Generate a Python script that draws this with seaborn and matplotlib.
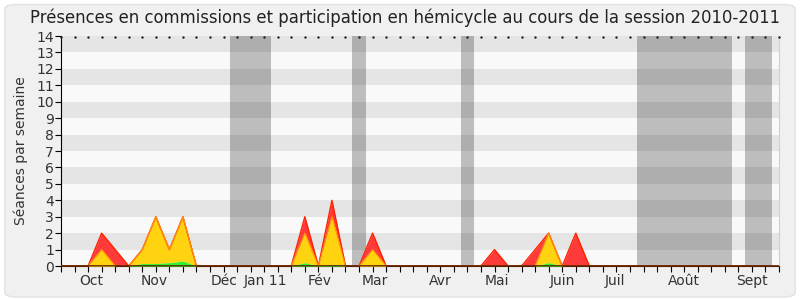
import numpy as np
import pandas as pd
import seaborn as sns
import matplotlib
matplotlib.use("Agg")
import matplotlib.pyplot as plt
from matplotlib.patches import FancyBboxPatch

# ---- data (weekly, session 2010-2011) ----
weeks = list(range(53))
# cumulative top levels of each stacked layer
total_top = [0, 0, 0, 2, 1, 0, 1, 3, 1, 3, 0, 0, 0, 0, 0, 0, 0, 0, 3, 0, 4, 0, 0, 2, 0, 0,
             0, 0, 0, 0, 0, 0, 1, 0, 0, 1, 2, 0, 2, 0, 0, 0, 0, 0, 0, 0, 0, 0, 0, 0, 0, 0, 0]
yellow_top = [0, 0, 0, 1, 0, 0, 1, 3, 1, 3, 0, 0, 0, 0, 0, 0, 0, 0, 2, 0, 3, 0, 0, 1, 0, 0,
              0, 0, 0, 0, 0, 0, 0, 0, 0, 0, 2, 0, 0, 0, 0, 0, 0, 0, 0, 0, 0, 0, 0, 0, 0, 0, 0]
green_top = [0, 0, 0, 0, 0, 0, 0.15, 0.15, 0.2, 0.3, 0, 0, 0, 0, 0, 0, 0, 0, 0.2, 0, 0.1, 0, 0, 0, 0, 0,
             0, 0, 0, 0, 0, 0, 0, 0, 0, 0, 0.2, 0, 0, 0, 0, 0, 0, 0, 0, 0, 0, 0, 0, 0, 0, 0, 0]
vacances = [(12.5, 15.5), (21.5, 22.5), (29.5, 30.5), (42.5, 49.5), (50.5, 52.5)]
month_labels = ["Oct", "Nov", "Déc", "Jan 11", "Fév", "Mar", "Avr", "Mai", "Juin", "Juil", "Août", "Sept"]
month_pos = [2.2, 6.9, 12.0, 15.1, 19.1, 23.2, 28.0, 32.2, 37.0, 40.9, 46.0, 51.0]

df = pd.DataFrame({"week": weeks, "total": total_top, "yellow": yellow_top, "green": green_top})

sns.set_theme(style="white")
plt.rcParams['font.family'] = ['DejaVu Sans']

fig = plt.figure(figsize=(8, 3), dpi=100)
fig.patch.set_facecolor("white")
fig.patches.append(FancyBboxPatch((0.006, 0.01), 0.988, 0.975, boxstyle="round,pad=0,rounding_size=0.015",
                                  transform=fig.transFigure, facecolor="#f0f0f0", edgecolor="#e2e2e2",
                                  linewidth=1, zorder=-10))
ax = fig.add_axes([0.07625, 0.1133, 0.8975, 0.7667])
ax.set_facecolor("#f9f9f9")

# horizontal bands
for k in range(1, 14, 2):
    ax.axhspan(k, k + 1, color="#e5e5e5", lw=0, zorder=0)
# holidays
for a, b in vacances:
    ax.axvspan(a, b, color="black", alpha=0.24, lw=0, zorder=1)

x = df["week"].values
ax.fill_between(x, df["yellow"], df["total"], color="#ff3a3a", lw=0, zorder=2)
ax.fill_between(x, df["green"], df["yellow"], color="#ffd30f", lw=0, zorder=3)
ax.fill_between(x, 0, df["green"], color="#2ef02e", lw=0, zorder=4)
sns.lineplot(data=df, x="week", y="total", ax=ax, color="#ff2200", lw=1, zorder=5)
sns.lineplot(data=df, x="week", y="yellow", ax=ax, color="#ff9900", lw=0.8, zorder=5)
ax.axhline(0, color="#5a2000", lw=1.2, zorder=6)

ax.set_xlim(0, 53)
ax.set_ylim(0, 14)
ax.set_yticks(range(15))
ax.set_yticklabels([str(i) for i in range(15)], fontsize=10, color="#333333")
ax.xaxis.remove_overlapping_locs = False
ax.set_xticks(np.arange(0, 54, 1))
ax.set_xticklabels([])
ax.set_xticks(month_pos, minor=True)
ax.set_xticklabels(month_labels, minor=True, fontsize=10, color="#333333")
ax.tick_params(axis="x", which="major", length=4, width=0.8, color="black", bottom=True, top=False,
               direction="out")
ax.tick_params(axis="x", which="minor", length=0, pad=6)
ax.tick_params(axis="y", which="major", length=4, width=0.8, color="black", left=True, pad=1)
ax.set_xlabel("")
ax.set_ylabel("Séances par semaine", fontsize=10, color="#333333", labelpad=6)

# top tick marks as small dots
ax.plot(np.arange(0, 54, 1), np.full(54, 13.95), ls="none", marker="s", ms=0.7, color="#222222",
        zorder=7, clip_on=False)

ax.spines["top"].set_visible(False)
ax.spines["right"].set_color("#cfcfcf")
ax.spines["left"].set_color("black")
ax.spines["bottom"].set_color("#5a2000")
for s in ax.spines.values():
    s.set_linewidth(0.8)

fig.text(0.506, 0.94, "Présences en commissions et participation en hémicycle au cours de la session 2010-2011",
         ha="center", va="center", fontsize=11.9, color="#222222")

fig.savefig("out.png", dpi=100)
